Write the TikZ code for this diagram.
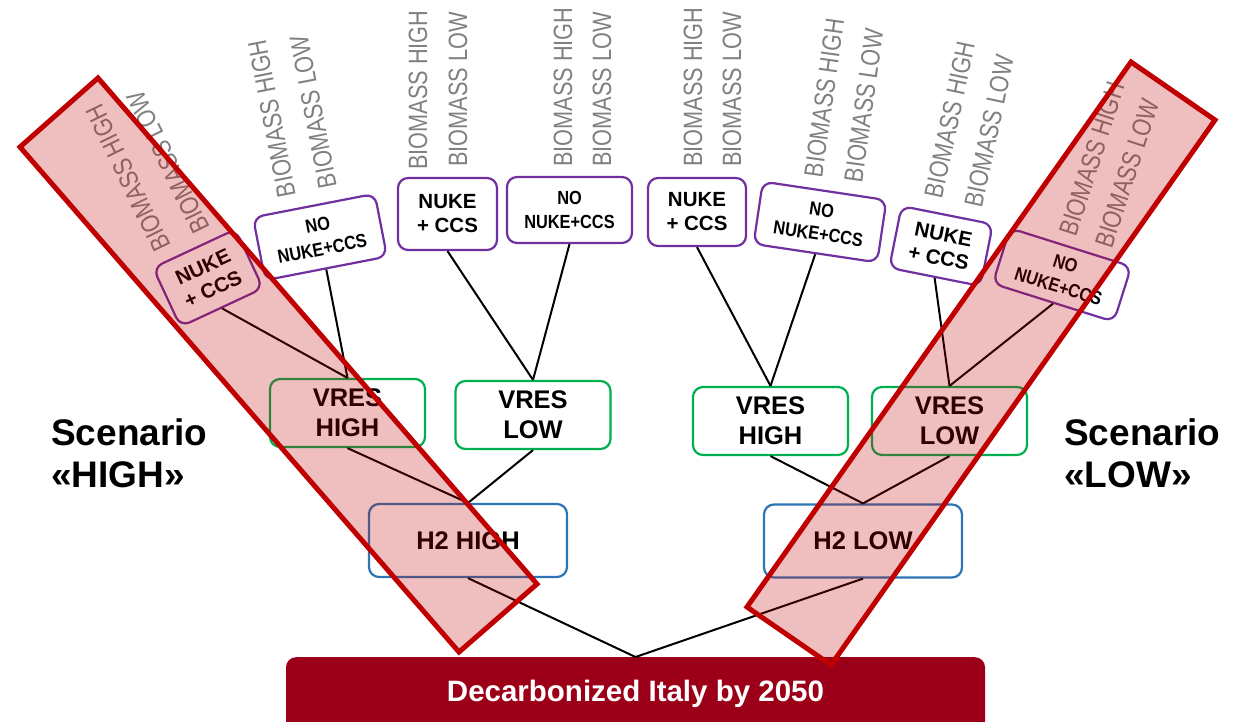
\documentclass[tikz,border=0pt]{standalone}
\usepackage{fontspec}
\setmainfont{Liberation Sans}
\newfontfamily\narrowfont{Liberation Sans}[FakeStretch=0.82]
\newfontfamily\narrowboldfont{Liberation Sans}[FakeStretch=0.86]
\definecolor{boxpurple}{RGB}{112,48,160}
\definecolor{vgreen}{RGB}{0,176,80}
\definecolor{h2blue}{RGB}{46,117,182}
\definecolor{barred}{RGB}{156,0,24}
\definecolor{bandred}{RGB}{192,0,0}
\definecolor{biogray}{RGB}{128,128,128}
\begin{document}
\begin{tikzpicture}[x=1pt,y=-1pt,
  optbox/.style={draw=boxpurple, line width=2.2pt, rounded corners=10pt, fill=white, align=center, inner sep=0pt, font=\bfseries\fontsize{20.5}{24}\selectfont},
  nobox/.style={optbox, font=\narrowboldfont\bfseries\fontsize{19}{24}\selectfont},
  vresbox/.style={draw=vgreen, line width=2.2pt, rounded corners=10pt, fill=white, align=center, inner sep=0pt, minimum width=155pt, minimum height=68pt, font=\bfseries\fontsize{25.5}{30}\selectfont},
  h2box/.style={draw=h2blue, line width=2.2pt, rounded corners=10pt, fill=white, align=center, inner sep=0pt, minimum width=198pt, minimum height=73pt, font=\bfseries\fontsize{25.5}{30}\selectfont},
  biolabel/.style={text=biogray, inner sep=0pt, anchor=west, font=\narrowfont\fontsize{26.5}{30}\selectfont},
  conn/.style={line width=2pt, draw=black},
  band/.style={draw=bandred, line width=5pt, fill=bandred, fill opacity=0.25, line join=miter},
  scen/.style={anchor=base west, inner sep=0pt, font=\bfseries\fontsize{37}{42}\selectfont},
  barbox/.style={fill=barred, rounded corners=10pt, inner sep=0pt, minimum width=699pt, minimum height=74pt, text=white, font=\bfseries\fontsize{29.5}{34}\selectfont}
]
\useasboundingbox (0,0) rectangle (1234,721);

% bottom bar
\node[barbox, anchor=north] (bar) at (635.5,657) {Decarbonized Italy by 2050};

% H2 level
\node[h2box] (h2h) at (468,540.5) {H2 HIGH};
\node[h2box] (h2l) at (863,541) {H2 LOW};

% VRES level
\node[vresbox] (vhA) at (347.5,413) {VRES\\HIGH};
\node[vresbox] (vlA) at (533,415) {VRES\\LOW};
\node[vresbox] (vhB) at (770.5,421) {VRES\\HIGH};
\node[vresbox] (vlB) at (949.5,421) {VRES\\LOW};

% option boxes
\node[optbox, minimum width=91pt, minimum height=65pt, rotate=25] (bA) at (208,278) {NUKE\\+ CCS};
\node[nobox, minimum width=124pt, minimum height=64pt, rotate=11] (bB) at (320,237) {NO\\NUKE+CCS};
\node[optbox, minimum width=99pt, minimum height=72pt] (bC) at (447.5,214) {NUKE\\+ CCS};
\node[nobox, minimum width=125pt, minimum height=66pt] (bD) at (569.5,210) {NO\\NUKE+CCS};
\node[optbox, minimum width=98pt, minimum height=68pt] (bE) at (697,212) {NUKE\\+ CCS};
\node[nobox, minimum width=125pt, minimum height=63pt, rotate=-8.5] (bF) at (820,222) {NO\\NUKE+CCS};
\node[optbox, minimum width=93pt, minimum height=63pt, rotate=-11.3] (bG) at (941,246) {NUKE\\+ CCS};
\node[nobox, minimum width=127pt, minimum height=58pt, rotate=-17.5] (bH) at (1062,275) {NO\\NUKE+CCS};

% connectors
\draw[conn] (bar.north) -- (h2h.south);
\draw[conn] (bar.north) -- (h2l.south);
\draw[conn] (h2h.north) -- (vhA.south);
\draw[conn] (h2h.north) -- (vlA.south);
\draw[conn] (h2l.north) -- (vhB.south);
\draw[conn] (h2l.north) -- (vlB.south);
\draw[conn] (vhA.north) -- (bA.south);
\draw[conn] (vhA.north) -- (bB.south);
\draw[conn] (vlA.north) -- (bC.south);
\draw[conn] (vlA.north) -- (bD.south);
\draw[conn] (vhB.north) -- (bE.south);
\draw[conn] (vhB.north) -- (bF.south);
\draw[conn] (vlB.north) -- (bG.south);
\draw[conn] (vlB.north) -- (bH.south);

% biomass labels
\node[biolabel, rotate=116] (aHi) at (163,250) {BIOMASS HIGH};
\node[biolabel, rotate=116] (aLo) at (202,232) {BIOMASS LOW};
\node[biolabel, rotate=101] (bHi) at (287,197) {BIOMASS HIGH};
\node[biolabel, rotate=101] (bLo) at (328,188) {BIOMASS LOW};
\node[biolabel, rotate=90] (cHi) at (418,170) {BIOMASS HIGH};
\node[biolabel, rotate=90] (cLo) at (458,167) {BIOMASS LOW};
\node[biolabel, rotate=90] (dHi) at (563,167) {BIOMASS HIGH};
\node[biolabel, rotate=90] (dLo) at (602,167) {BIOMASS LOW};
\node[biolabel, rotate=90] (eHi) at (693,167) {BIOMASS HIGH};
\node[biolabel, rotate=90] (eLo) at (732,167) {BIOMASS LOW};
\node[biolabel, rotate=82] (fHi) at (813,177) {BIOMASS HIGH};
\node[biolabel, rotate=82] (fLo) at (853,182) {BIOMASS LOW};
\node[biolabel, rotate=78] (gHi) at (933,198) {BIOMASS HIGH};
\node[biolabel, rotate=78] (gLo) at (973,207) {BIOMASS LOW};
\node[biolabel, rotate=72] (hHi) at (1067,235) {BIOMASS HIGH};
\node[biolabel, rotate=72] (hLo) at (1103,247) {BIOMASS LOW};

% scenario titles
\node[scen] (sh1) at (51,445) {Scenario};
\node[scen] (sh2) at (51,487) {«HIGH»};
\node[scen] (sl1) at (1064,445) {Scenario};
\node[scen] (sl2) at (1064,487) {«LOW»};

% highlighted bands
\draw[band] (20,147) -- (98,78) -- (537,584) -- (459,652) -- cycle;
\draw[band] (1131,62) -- (1215,120) -- (831,665) -- (747,607) -- cycle;
\end{tikzpicture}
\end{document}
